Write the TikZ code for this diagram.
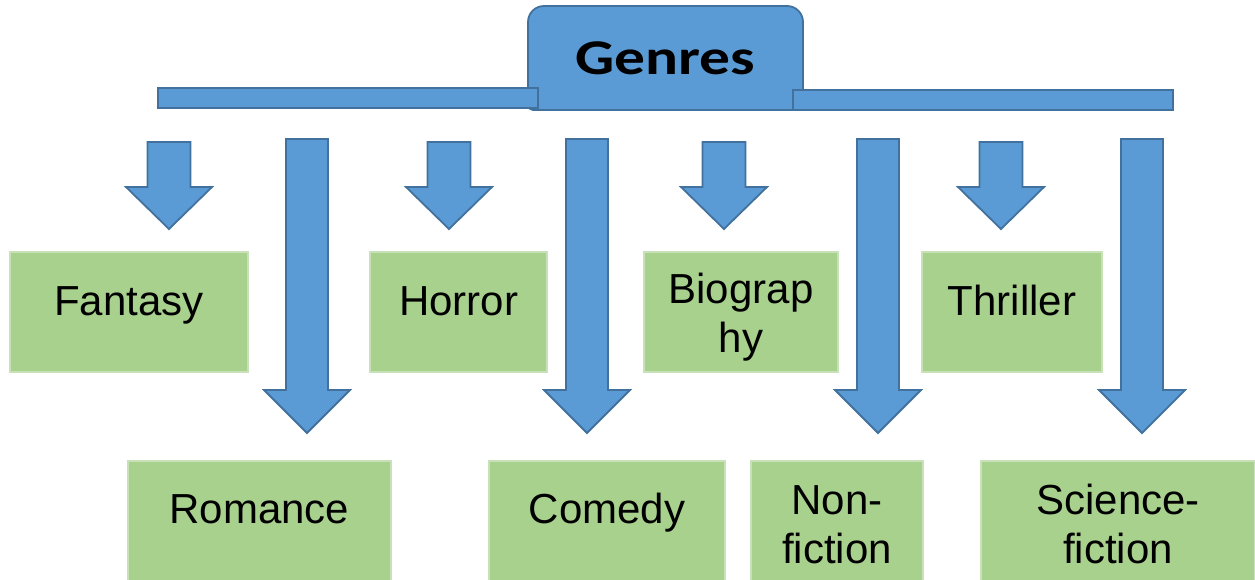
\documentclass[tikz,border=0pt]{standalone}
\usepackage{fontspec}
\setmainfont{Liberation Sans}
\newfontfamily\hdrfont{Carlito}
\usepackage{graphicx}
\definecolor{blu}{HTML}{5B9BD5}
\definecolor{bluline}{HTML}{41719C}
\definecolor{grn}{HTML}{A9D18E}
\definecolor{grnline}{HTML}{C9E1B9}
\tikzset{
  blk/.style={draw=bluline,fill=blu,line width=1.8pt,line join=miter},
  gbox/.style={draw=grnline,fill=grn,line width=2pt,inner sep=0pt,font=\fontsize{42}{49}\selectfont,align=center,text height=63pt,text depth=57pt},
  gbox2/.style={gbox,text height=100pt,text depth=20pt},
  lowbox/.style={gbox,text height=62pt,text depth=88pt},
  lowbox2/.style={gbox,text height=102pt,text depth=48pt},
  hdr/.style={anchor=base,inner sep=0pt,font=\hdrfont\bfseries\fontsize{50}{54}\selectfont},
}

\begin{document}
\begin{tikzpicture}[x=1pt,y=-1pt]
\useasboundingbox (0,0) rectangle (1255,579);
% tab on top with the two bars
\draw[blk] (665,110) [rounded corners=5pt] -- (528,110) [rounded corners=16pt] -- (528,6) -- (803,6) [rounded corners=5pt] -- (803,110) -- cycle;
\node[hdr] (genres) at (665,74) {\scalebox{1.23}[1]{Genres}};
\draw[blk] (158,88) rectangle (538,108);
\draw[blk] (793,90) rectangle (1173,110);
% short and long block arrows
\foreach \x in {169,449,724,1001}
  \draw[blk] (\x-21.5,142) -- (\x+21.5,142) -- (\x+21.5,187) -- (\x+43,187) -- (\x,229) -- (\x-43,187) -- (\x-21.5,187) -- cycle;
\foreach \x in {307,587,878,1142}
  \draw[blk] (\x-21,139) -- (\x+21,139) -- (\x+21,390) -- (\x+43,390) -- (\x,433) -- (\x-43,390) -- (\x-21,390) -- cycle;
% upper row
\node[gbox,minimum width=238pt] (fantasy) at (129,312) {Fantasy};
\node[gbox,minimum width=177pt] (horror) at (458.5,312) {Horror};
\node[gbox2,minimum width=194pt] (biography) at (741,312) {Biograp\\hy};
\node[gbox,minimum width=180pt] (thriller) at (1012,312) {Thriller};
% lower row
\node[lowbox,minimum width=263pt] (romance) at (259.5,536) {Romance};
\node[lowbox,minimum width=236pt] (comedy) at (607,536) {Comedy};
\node[lowbox2,minimum width=172pt] (nonfiction) at (837,536) {Non-\\fiction};
\node[lowbox2,minimum width=274pt] (scifi) at (1118,536) {Science-\\fiction};
\end{tikzpicture}
\end{document}
